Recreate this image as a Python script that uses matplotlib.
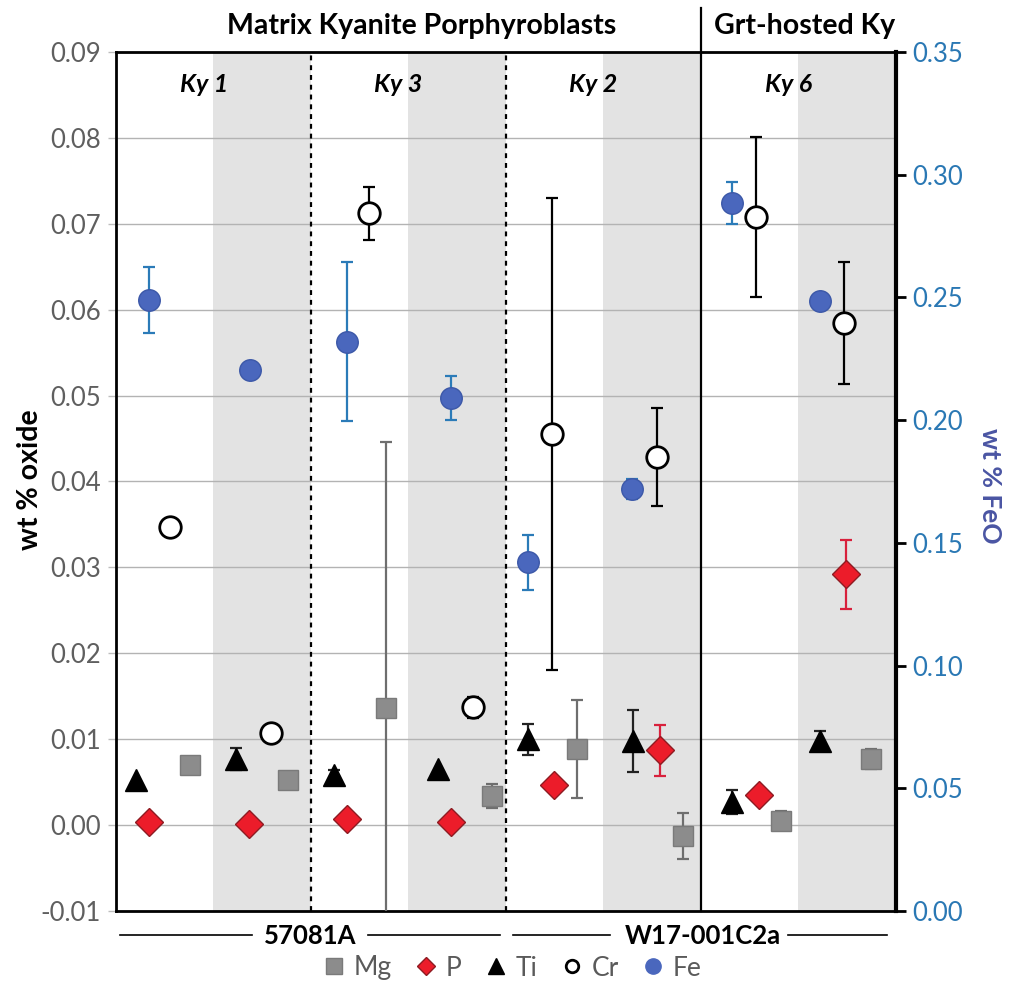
import matplotlib
matplotlib.use("Agg")
import matplotlib.pyplot as plt
from matplotlib.lines import Line2D
import numpy as np

plt.rcParams['font.family'] = ['Lato', 'DejaVu Sans']

# ---------------- data ----------------
crystals = ['Ky 1', 'Ky 3', 'Ky 2', 'Ky 6']
samples = ['57081A', 'W17-001C2a']
groups_top = ['Matrix Kyanite Porphyroblasts', 'Grt-hosted Ky']
# 8 half-panel categories: (Ky1 a,b), (Ky3 a,b), (Ky2 a,b), (Ky6 a,b)
mg = [0.0070, 0.0052, 0.0136, 0.0034, 0.0089, -0.0013, 0.0005, 0.0077]
mg_err = [0.0, 0.0, 0.0310, 0.0014, 0.0057, 0.0027, 0.0011, 0.0012]
p = [0.0004, 0.0001, 0.0007, 0.0004, 0.0047, 0.0087, 0.0035, 0.0292]
p_err = [0.0, 0.0, 0.0, 0.0, 0.0, 0.0030, 0.0, 0.0040]
ti = [0.0052, 0.0077, 0.0058, 0.0065, 0.0100, 0.0098, 0.0027, 0.0098]
ti_err = [0.0, 0.0013, 0.0006, 0.0, 0.0018, 0.0036, 0.0014, 0.0012]
cr = [0.0347, 0.0107, 0.0712, 0.0137, 0.0455, 0.0429, 0.0708, 0.0585]
cr_err = [0.0, 0.0, 0.0031, 0.0012, 0.0275, 0.0057, 0.0093, 0.0071]
feo = [0.2490, 0.2204, 0.2320, 0.2090, 0.1420, 0.1719, 0.2885, 0.2485]
feo_err = [0.0135, 0.0, 0.0323, 0.0090, 0.0114, 0.0040, 0.0084, 0.0]

# ---------------- layout (offsets of each series inside a half panel) ----------------
off_ti = [0.205, 0.232, 0.241, 0.303, 0.227, 0.311, 0.321, 0.221]
off_p = [0.336, 0.369, 0.375, 0.436, 0.500, 0.585, 0.594, 0.495]
off_fe = [0.339, 0.373, 0.375, 0.440, 0.227, 0.298, 0.321, 0.221]
off_cr = [0.554, 0.588, 0.600, 0.662, 0.473, 0.554, 0.571, 0.467]
off_mg = [0.760, 0.763, 0.772, 0.857, 0.730, 0.818, 0.828, 0.752]

idx = np.arange(8)

W, H = 1015, 998
fig = plt.figure(figsize=(W / 100, H / 100), dpi=100)
L, R, B, T = 116, 895.5, 911, 52
ax = fig.add_axes([L / W, 1 - B / H, (R - L) / W, (B - T) / H])
ax2 = ax.twinx()

ax.set_xlim(0, 8)
ax.set_ylim(-0.01, 0.09)
ax2.set_ylim(0.0, 0.35)

# gray shading for second half of each panel
for k in range(4):
    ax.axvspan(2 * k + 1, 2 * k + 2, color='#e3e3e3', lw=0, zorder=0)

# grid
yt = np.round(np.arange(-0.01, 0.0901, 0.01), 2)
for y in yt:
    ax.axhline(y, color='#b3b3b3', lw=1.0, zorder=1)

# separators
for xs in (2, 4):
    ax.axvline(xs, color='black', lw=1.6, ls=(0, (2.2, 2.2)), zorder=2)
ax.add_line(Line2D([6, 6], [0, 1 + (T - 8) / (B - T)], transform=ax.get_xaxis_transform(),
                   color='black', lw=1.6, clip_on=False, zorder=2))

ms_sq, ms_d, ms_t, ms_c = 14.5, 14.0, 15.5, 15.5
cap = 4

def eb(axis, x, y, e, ecolor, marker, ms, mfc, mec, mew, z):
    x = np.asarray(x); y = np.asarray(y); e = np.asarray(e)
    m = e > 0
    axis.errorbar(x[m], y[m], yerr=e[m], fmt='none', ecolor=ecolor, elinewidth=1.6,
                  capsize=cap, capthick=1.6, zorder=z)
    axis.plot(x, y, ls='none', marker=marker, ms=ms, mfc=mfc, mec=mec, mew=mew, zorder=z + 0.5)

eb(ax, idx + np.array(off_mg), mg, mg_err, '#6e6e6e', 's', ms_sq, '#8c8c8c', '#7a7a7a', 1.0, 3)
eb(ax, idx + np.array(off_p), p, p_err, '#d8203c', 'D', ms_d, '#ec1c2a', '#8e1b22', 1.0, 4)
eb(ax, idx + np.array(off_ti), ti, ti_err, '#222222', '^', ms_t, 'black', 'black', 1.0, 5)
eb(ax, idx + np.array(off_cr), cr, cr_err, 'black', 'o', ms_c, 'white', 'black', 2.0, 6)
eb(ax2, idx + np.array(off_fe), feo, feo_err, '#2b7bb8', 'o', ms_c, '#4a67bd', '#3c58a8', 1.0, 5)

# axes styling
ax.set_yticks(yt)
ax.set_yticklabels(['%.2f' % v for v in yt], color='#5f5f5f', fontsize=18.5)
ax.tick_params(axis='y', length=6, color='#bdbdbd', width=1, pad=5)
ax.set_xticks([])
for s in ('left', 'top', 'bottom'):
    ax.spines[s].set_linewidth(2.0)
ax.spines['right'].set_visible(False)

r_ticks = np.round(np.arange(0, 0.351, 0.05), 2)
ax2.set_yticks(r_ticks)
ax2.set_yticklabels(['%.2f' % v for v in r_ticks], color='#2a78b4', fontsize=18.5)
ax2.tick_params(axis='y', length=7, color='black', width=2, pad=5)
ax2.spines['right'].set_linewidth(3.0)
for s in ('left', 'top', 'bottom'):
    ax2.spines[s].set_visible(False)

# axis labels
fig.text(30 / W, 1 - 480 / H, 'wt % oxide', rotation=90, ha='center', va='center',
         fontsize=20.5, fontweight='bold', color='black')
fig.text(990 / W, 1 - 486 / H, 'wt % FeO', rotation=270, ha='center', va='center',
         fontsize=19, fontweight='bold', color='#4a55a3')

# crystal labels
for k, name in enumerate(crystals):
    ax.text(2 * k + 0.9, 0.9616, name, transform=ax.get_xaxis_transform(), ha='center', va='center',
            fontsize=18, fontweight='bold', style='italic')

# top group titles
fig.text(422 / W, 1 - 26 / H, groups_top[0], ha='center', va='center', fontsize=20.5, fontweight='bold')
fig.text(805 / W, 1 - 26 / H, groups_top[1], ha='center', va='center', fontsize=20.5, fontweight='bold')

# sample labels with lines
yl = 1 - 935 / H
for (x0, x1, x2, x3, xc, name) in [(120, 252, 368, 500, 310, samples[0]),
                                   (513, 610, 788, 887, 702.5, samples[1])]:
    fig.add_artist(Line2D([x0 / W, x1 / W], [yl, yl], color='black', lw=1.2))
    fig.add_artist(Line2D([x2 / W, x3 / W], [yl, yl], color='black', lw=1.2))
    fig.text(xc / W, 1 - 936 / H, name, ha='center', va='center', fontsize=18.5, fontweight='bold')

# legend
handles = [
    Line2D([], [], ls='none', marker='s', ms=11, mfc='#8c8c8c', mec='#7a7a7a'),
    Line2D([], [], ls='none', marker='D', ms=9, mfc='#ec1c2a', mec='#8e1b22'),
    Line2D([], [], ls='none', marker='^', ms=12, mfc='black', mec='black'),
    Line2D([], [], ls='none', marker='o', ms=9, mfc='white', mec='black', mew=2),
    Line2D([], [], ls='none', marker='o', ms=11, mfc='#4a67bd', mec='#4a67bd'),
]
leg = fig.legend(handles, ['Mg', 'P', 'Ti', 'Cr', 'Fe'], loc='center', bbox_to_anchor=(0.505, 1 - 968 / H),
                 ncol=5, frameon=False, fontsize=19, handlelength=0.8, handletextpad=0.35,
                 columnspacing=0.9, borderaxespad=0)
for t in leg.get_texts():
    t.set_color('#5a5a5a')

fig.savefig('out.png', dpi=100)
